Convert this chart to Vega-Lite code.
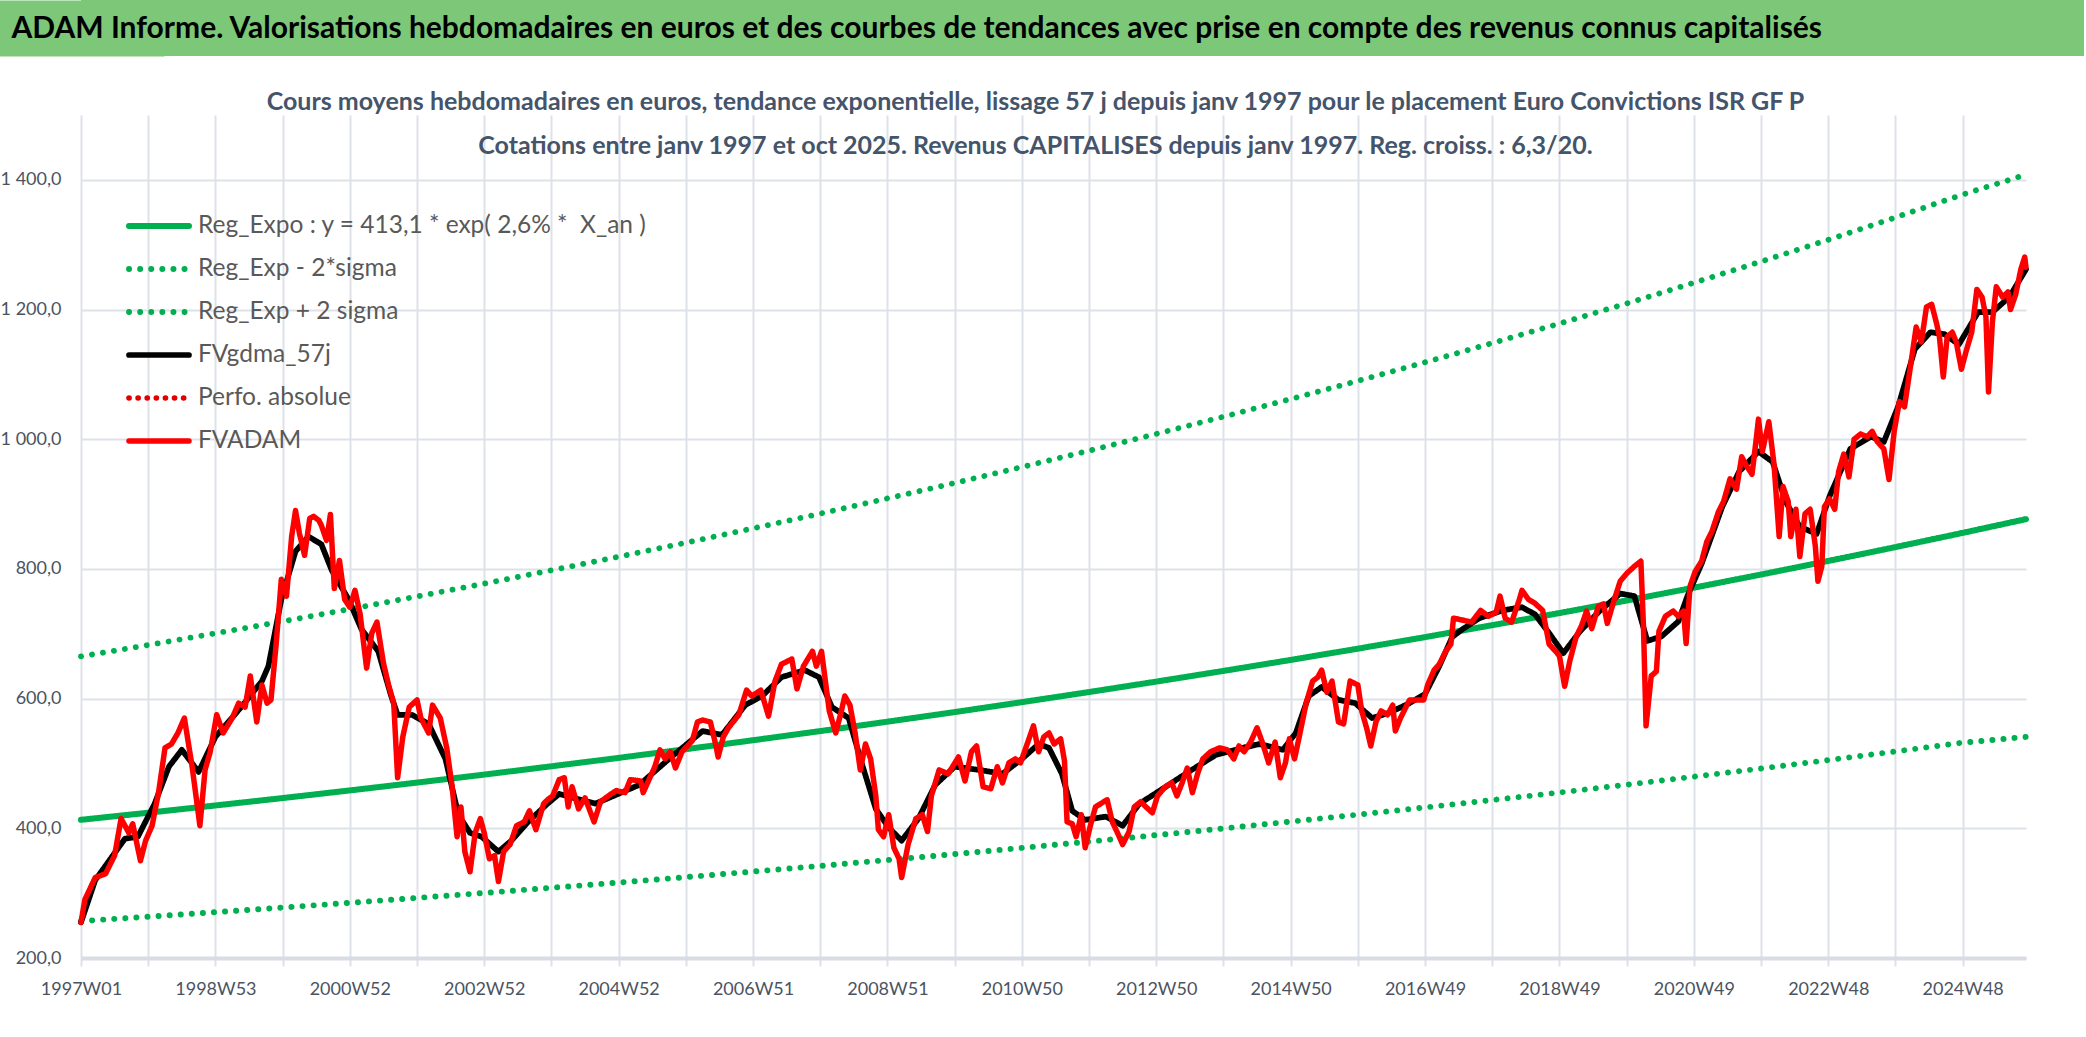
{
  "$schema": "https://vega.github.io/schema/vega-lite/v6.json",
  "padding": 0,
  "background": "white",
  "spacing": 34,
  "config": {
    "locale": {"number": {"decimal": ",", "thousands": "\u00a0", "grouping": [3], "currency": ["", " €"]}},
    "font": "Lato",
    "view": {"stroke": null}
  },
  "vconcat": [
    {
      "width": 2003,
      "height": 56,
      "view": {"fill": "#7cc878", "stroke": null},
      "data": {"values": [{"t": "ADAM Informe. Valorisations hebdomadaires en euros et des courbes de tendances avec prise en compte des revenus connus capitalisés"}]},
      "mark": {"type": "text", "align": "left", "baseline": "middle", "dx": -1071, "dy": 1, "fontSize": 30, "fontWeight": "bold", "color": "#000000"},
      "encoding": {
        "text": {"field": "t"},
        "y": {
          "datum": 0.5,
          "type": "quantitative",
          "scale": {"domain": [0, 1]},
          "axis": {"domain": true, "domainColor": "#7cc878", "domainWidth": 166, "domainCap": "butt", "ticks": false, "labels": false, "grid": false, "title": null}
        }
      }
    },
    {
      "width": 1945,
      "height": 843,
      "title": {
        "text": [
          "Cours moyens hebdomadaires en euros, tendance exponentielle, lissage 57 j depuis janv 1997 pour le placement Euro Convictions ISR GF P",
          "Cotations entre janv 1997 et oct 2025. Revenus CAPITALISES depuis janv 1997. Reg. croiss. : 6,3/20."
        ],
        "fontSize": 25,
        "fontWeight": "bold",
        "color": "#44546a",
        "lineHeight": 44,
        "anchor": "middle",
        "dx": -18,
        "offset": -44
      },
      "data": {
        "values": [
          {"s": "reg", "i": 0, "v": 413.1}, {"s": "reg", "i": 52, "v": 424.0}, {"s": "reg", "i": 104, "v": 435.2}, {"s": "reg", "i": 156, "v": 446.6},
          {"s": "reg", "i": 208, "v": 458.4}, {"s": "reg", "i": 260, "v": 470.5}, {"s": "reg", "i": 312, "v": 482.8}, {"s": "reg", "i": 364, "v": 495.6},
          {"s": "reg", "i": 416, "v": 508.6}, {"s": "reg", "i": 468, "v": 522.0}, {"s": "reg", "i": 520, "v": 535.8}, {"s": "reg", "i": 572, "v": 549.9},
          {"s": "reg", "i": 624, "v": 564.4}, {"s": "reg", "i": 676, "v": 579.2}, {"s": "reg", "i": 728, "v": 594.5}, {"s": "reg", "i": 780, "v": 610.1},
          {"s": "reg", "i": 832, "v": 626.2}, {"s": "reg", "i": 884, "v": 642.7}, {"s": "reg", "i": 936, "v": 659.6}, {"s": "reg", "i": 988, "v": 677.0},
          {"s": "reg", "i": 1040, "v": 694.8}, {"s": "reg", "i": 1092, "v": 713.2}, {"s": "reg", "i": 1144, "v": 731.9}, {"s": "reg", "i": 1196, "v": 751.2},
          {"s": "reg", "i": 1248, "v": 771.0}, {"s": "reg", "i": 1300, "v": 791.3}, {"s": "reg", "i": 1352, "v": 812.2}, {"s": "reg", "i": 1404, "v": 833.6},
          {"s": "reg", "i": 1456, "v": 855.5}, {"s": "reg", "i": 1505, "v": 876.7},
          {"s": "up", "i": 0, "v": 665.1}, {"s": "up", "i": 52, "v": 682.6}, {"s": "up", "i": 104, "v": 700.7}, {"s": "up", "i": 156, "v": 719.0},
          {"s": "up", "i": 208, "v": 738.0}, {"s": "up", "i": 260, "v": 757.5}, {"s": "up", "i": 312, "v": 777.3}, {"s": "up", "i": 364, "v": 797.9},
          {"s": "up", "i": 416, "v": 818.8}, {"s": "up", "i": 468, "v": 840.4}, {"s": "up", "i": 520, "v": 862.6}, {"s": "up", "i": 572, "v": 885.3},
          {"s": "up", "i": 624, "v": 908.7}, {"s": "up", "i": 676, "v": 932.5}, {"s": "up", "i": 728, "v": 957.1}, {"s": "up", "i": 780, "v": 982.3},
          {"s": "up", "i": 832, "v": 1008.2}, {"s": "up", "i": 884, "v": 1034.7}, {"s": "up", "i": 936, "v": 1062.0}, {"s": "up", "i": 988, "v": 1090.0},
          {"s": "up", "i": 1040, "v": 1118.6}, {"s": "up", "i": 1092, "v": 1148.3}, {"s": "up", "i": 1144, "v": 1178.4}, {"s": "up", "i": 1196, "v": 1209.4},
          {"s": "up", "i": 1248, "v": 1241.3}, {"s": "up", "i": 1300, "v": 1274.0}, {"s": "up", "i": 1352, "v": 1307.6}, {"s": "up", "i": 1404, "v": 1342.1},
          {"s": "up", "i": 1456, "v": 1377.4}, {"s": "up", "i": 1505, "v": 1408.0},
          {"s": "low", "i": 0, "v": 256.9}, {"s": "low", "i": 52, "v": 263.7}, {"s": "low", "i": 104, "v": 270.7}, {"s": "low", "i": 156, "v": 277.8},
          {"s": "low", "i": 208, "v": 285.1}, {"s": "low", "i": 260, "v": 292.7}, {"s": "low", "i": 312, "v": 300.3}, {"s": "low", "i": 364, "v": 308.3},
          {"s": "low", "i": 416, "v": 316.3}, {"s": "low", "i": 468, "v": 324.7}, {"s": "low", "i": 520, "v": 333.3}, {"s": "low", "i": 572, "v": 342.0},
          {"s": "low", "i": 624, "v": 351.1}, {"s": "low", "i": 676, "v": 360.3}, {"s": "low", "i": 728, "v": 369.8}, {"s": "low", "i": 780, "v": 379.5},
          {"s": "low", "i": 832, "v": 389.5}, {"s": "low", "i": 884, "v": 399.8}, {"s": "low", "i": 936, "v": 410.3}, {"s": "low", "i": 988, "v": 421.1},
          {"s": "low", "i": 1040, "v": 432.2}, {"s": "low", "i": 1092, "v": 443.6}, {"s": "low", "i": 1144, "v": 455.2}, {"s": "low", "i": 1196, "v": 467.2},
          {"s": "low", "i": 1248, "v": 479.6}, {"s": "low", "i": 1300, "v": 492.2}, {"s": "low", "i": 1352, "v": 505.2}, {"s": "low", "i": 1404, "v": 518.5},
          {"s": "low", "i": 1456, "v": 532.1}, {"s": "low", "i": 1505, "v": 541.0},
          {"s": "gdma", "i": 0, "v": 255}, {"s": "gdma", "i": 11, "v": 320}, {"s": "gdma", "i": 34, "v": 384}, {"s": "gdma", "i": 44, "v": 387},
          {"s": "gdma", "i": 57, "v": 438}, {"s": "gdma", "i": 68, "v": 495}, {"s": "gdma", "i": 78, "v": 521}, {"s": "gdma", "i": 91, "v": 487},
          {"s": "gdma", "i": 104, "v": 541}, {"s": "gdma", "i": 124, "v": 587}, {"s": "gdma", "i": 140, "v": 627}, {"s": "gdma", "i": 145, "v": 650},
          {"s": "gdma", "i": 155, "v": 753}, {"s": "gdma", "i": 166, "v": 827}, {"s": "gdma", "i": 176, "v": 850}, {"s": "gdma", "i": 186, "v": 838},
          {"s": "gdma", "i": 194, "v": 798}, {"s": "gdma", "i": 207, "v": 753}, {"s": "gdma", "i": 217, "v": 707}, {"s": "gdma", "i": 230, "v": 673},
          {"s": "gdma", "i": 240, "v": 604}, {"s": "gdma", "i": 245, "v": 575}, {"s": "gdma", "i": 256, "v": 575}, {"s": "gdma", "i": 269, "v": 561},
          {"s": "gdma", "i": 282, "v": 507}, {"s": "gdma", "i": 292, "v": 421}, {"s": "gdma", "i": 301, "v": 393}, {"s": "gdma", "i": 310, "v": 387},
          {"s": "gdma", "i": 323, "v": 364}, {"s": "gdma", "i": 333, "v": 381}, {"s": "gdma", "i": 346, "v": 410}, {"s": "gdma", "i": 361, "v": 438},
          {"s": "gdma", "i": 370, "v": 453}, {"s": "gdma", "i": 398, "v": 438}, {"s": "gdma", "i": 432, "v": 467}, {"s": "gdma", "i": 455, "v": 507},
          {"s": "gdma", "i": 481, "v": 550}, {"s": "gdma", "i": 496, "v": 544}, {"s": "gdma", "i": 514, "v": 590}, {"s": "gdma", "i": 527, "v": 604},
          {"s": "gdma", "i": 542, "v": 633}, {"s": "gdma", "i": 560, "v": 644}, {"s": "gdma", "i": 571, "v": 633}, {"s": "gdma", "i": 581, "v": 587},
          {"s": "gdma", "i": 594, "v": 570}, {"s": "gdma", "i": 604, "v": 501}, {"s": "gdma", "i": 615, "v": 430}, {"s": "gdma", "i": 625, "v": 401},
          {"s": "gdma", "i": 635, "v": 381}, {"s": "gdma", "i": 648, "v": 415}, {"s": "gdma", "i": 661, "v": 467}, {"s": "gdma", "i": 676, "v": 495},
          {"s": "gdma", "i": 695, "v": 490}, {"s": "gdma", "i": 713, "v": 484}, {"s": "gdma", "i": 728, "v": 507}, {"s": "gdma", "i": 741, "v": 530},
          {"s": "gdma", "i": 749, "v": 524}, {"s": "gdma", "i": 759, "v": 484}, {"s": "gdma", "i": 767, "v": 427}, {"s": "gdma", "i": 777, "v": 413},
          {"s": "gdma", "i": 793, "v": 418}, {"s": "gdma", "i": 806, "v": 404}, {"s": "gdma", "i": 819, "v": 438}, {"s": "gdma", "i": 837, "v": 461},
          {"s": "gdma", "i": 857, "v": 487}, {"s": "gdma", "i": 878, "v": 513}, {"s": "gdma", "i": 899, "v": 524}, {"s": "gdma", "i": 912, "v": 530},
          {"s": "gdma", "i": 930, "v": 521}, {"s": "gdma", "i": 940, "v": 547}, {"s": "gdma", "i": 950, "v": 604}, {"s": "gdma", "i": 960, "v": 618},
          {"s": "gdma", "i": 973, "v": 598}, {"s": "gdma", "i": 986, "v": 593}, {"s": "gdma", "i": 999, "v": 570}, {"s": "gdma", "i": 1012, "v": 578},
          {"s": "gdma", "i": 1028, "v": 593}, {"s": "gdma", "i": 1040, "v": 607}, {"s": "gdma", "i": 1051, "v": 650}, {"s": "gdma", "i": 1061, "v": 695},
          {"s": "gdma", "i": 1069, "v": 707}, {"s": "gdma", "i": 1082, "v": 724}, {"s": "gdma", "i": 1100, "v": 736}, {"s": "gdma", "i": 1115, "v": 741},
          {"s": "gdma", "i": 1125, "v": 730}, {"s": "gdma", "i": 1136, "v": 701}, {"s": "gdma", "i": 1147, "v": 670}, {"s": "gdma", "i": 1160, "v": 704},
          {"s": "gdma", "i": 1175, "v": 735}, {"s": "gdma", "i": 1191, "v": 762}, {"s": "gdma", "i": 1202, "v": 758}, {"s": "gdma", "i": 1212, "v": 689},
          {"s": "gdma", "i": 1223, "v": 696}, {"s": "gdma", "i": 1236, "v": 719}, {"s": "gdma", "i": 1243, "v": 758}, {"s": "gdma", "i": 1254, "v": 808},
          {"s": "gdma", "i": 1270, "v": 896}, {"s": "gdma", "i": 1283, "v": 950}, {"s": "gdma", "i": 1298, "v": 981}, {"s": "gdma", "i": 1309, "v": 965},
          {"s": "gdma", "i": 1319, "v": 904}, {"s": "gdma", "i": 1330, "v": 865}, {"s": "gdma", "i": 1343, "v": 854}, {"s": "gdma", "i": 1353, "v": 912},
          {"s": "gdma", "i": 1369, "v": 985}, {"s": "gdma", "i": 1385, "v": 1004}, {"s": "gdma", "i": 1395, "v": 996}, {"s": "gdma", "i": 1406, "v": 1050},
          {"s": "gdma", "i": 1419, "v": 1139}, {"s": "gdma", "i": 1431, "v": 1165}, {"s": "gdma", "i": 1442, "v": 1162}, {"s": "gdma", "i": 1453, "v": 1146},
          {"s": "gdma", "i": 1468, "v": 1196}, {"s": "gdma", "i": 1479, "v": 1196}, {"s": "gdma", "i": 1492, "v": 1219}, {"s": "gdma", "i": 1505, "v": 1262},
          {"s": "fv", "i": 0, "v": 255}, {"s": "fv", "i": 3, "v": 290}, {"s": "fv", "i": 11, "v": 324}, {"s": "fv", "i": 19, "v": 330},
          {"s": "fv", "i": 26, "v": 358}, {"s": "fv", "i": 31, "v": 415}, {"s": "fv", "i": 37, "v": 393}, {"s": "fv", "i": 40, "v": 407},
          {"s": "fv", "i": 46, "v": 350}, {"s": "fv", "i": 50, "v": 381}, {"s": "fv", "i": 55, "v": 404}, {"s": "fv", "i": 60, "v": 455},
          {"s": "fv", "i": 65, "v": 524}, {"s": "fv", "i": 70, "v": 530}, {"s": "fv", "i": 75, "v": 547}, {"s": "fv", "i": 80, "v": 570},
          {"s": "fv", "i": 86, "v": 495}, {"s": "fv", "i": 92, "v": 404}, {"s": "fv", "i": 96, "v": 490}, {"s": "fv", "i": 100, "v": 518},
          {"s": "fv", "i": 105, "v": 575}, {"s": "fv", "i": 110, "v": 547}, {"s": "fv", "i": 117, "v": 570}, {"s": "fv", "i": 122, "v": 593},
          {"s": "fv", "i": 127, "v": 587}, {"s": "fv", "i": 131, "v": 635}, {"s": "fv", "i": 136, "v": 564}, {"s": "fv", "i": 140, "v": 621},
          {"s": "fv", "i": 144, "v": 593}, {"s": "fv", "i": 147, "v": 598}, {"s": "fv", "i": 151, "v": 684}, {"s": "fv", "i": 155, "v": 784},
          {"s": "fv", "i": 159, "v": 758}, {"s": "fv", "i": 163, "v": 850}, {"s": "fv", "i": 166, "v": 890}, {"s": "fv", "i": 169, "v": 855},
          {"s": "fv", "i": 173, "v": 821}, {"s": "fv", "i": 177, "v": 878}, {"s": "fv", "i": 180, "v": 881}, {"s": "fv", "i": 184, "v": 875},
          {"s": "fv", "i": 186, "v": 867}, {"s": "fv", "i": 190, "v": 844}, {"s": "fv", "i": 193, "v": 884}, {"s": "fv", "i": 196, "v": 770},
          {"s": "fv", "i": 200, "v": 813}, {"s": "fv", "i": 204, "v": 753}, {"s": "fv", "i": 208, "v": 741}, {"s": "fv", "i": 212, "v": 767},
          {"s": "fv", "i": 216, "v": 730}, {"s": "fv", "i": 221, "v": 647}, {"s": "fv", "i": 225, "v": 701}, {"s": "fv", "i": 229, "v": 718},
          {"s": "fv", "i": 234, "v": 655}, {"s": "fv", "i": 238, "v": 621}, {"s": "fv", "i": 242, "v": 593}, {"s": "fv", "i": 245, "v": 478},
          {"s": "fv", "i": 249, "v": 541}, {"s": "fv", "i": 254, "v": 587}, {"s": "fv", "i": 260, "v": 598}, {"s": "fv", "i": 263, "v": 570},
          {"s": "fv", "i": 269, "v": 547}, {"s": "fv", "i": 272, "v": 590}, {"s": "fv", "i": 278, "v": 570}, {"s": "fv", "i": 283, "v": 524},
          {"s": "fv", "i": 287, "v": 467}, {"s": "fv", "i": 291, "v": 387}, {"s": "fv", "i": 294, "v": 433}, {"s": "fv", "i": 297, "v": 364},
          {"s": "fv", "i": 301, "v": 333}, {"s": "fv", "i": 305, "v": 393}, {"s": "fv", "i": 309, "v": 415}, {"s": "fv", "i": 312, "v": 393},
          {"s": "fv", "i": 316, "v": 353}, {"s": "fv", "i": 320, "v": 358}, {"s": "fv", "i": 323, "v": 318}, {"s": "fv", "i": 327, "v": 364},
          {"s": "fv", "i": 332, "v": 375}, {"s": "fv", "i": 337, "v": 404}, {"s": "fv", "i": 343, "v": 410}, {"s": "fv", "i": 347, "v": 427},
          {"s": "fv", "i": 352, "v": 398}, {"s": "fv", "i": 358, "v": 438}, {"s": "fv", "i": 361, "v": 444}, {"s": "fv", "i": 365, "v": 450},
          {"s": "fv", "i": 370, "v": 475}, {"s": "fv", "i": 374, "v": 478}, {"s": "fv", "i": 377, "v": 433}, {"s": "fv", "i": 380, "v": 464},
          {"s": "fv", "i": 385, "v": 430}, {"s": "fv", "i": 390, "v": 447}, {"s": "fv", "i": 397, "v": 410}, {"s": "fv", "i": 402, "v": 441},
          {"s": "fv", "i": 408, "v": 450}, {"s": "fv", "i": 414, "v": 458}, {"s": "fv", "i": 421, "v": 455}, {"s": "fv", "i": 425, "v": 475},
          {"s": "fv", "i": 433, "v": 473}, {"s": "fv", "i": 435, "v": 455}, {"s": "fv", "i": 444, "v": 495}, {"s": "fv", "i": 448, "v": 521},
          {"s": "fv", "i": 452, "v": 507}, {"s": "fv", "i": 456, "v": 518}, {"s": "fv", "i": 460, "v": 493}, {"s": "fv", "i": 465, "v": 518},
          {"s": "fv", "i": 473, "v": 535}, {"s": "fv", "i": 477, "v": 564}, {"s": "fv", "i": 481, "v": 567}, {"s": "fv", "i": 487, "v": 564},
          {"s": "fv", "i": 491, "v": 530}, {"s": "fv", "i": 493, "v": 510}, {"s": "fv", "i": 497, "v": 541}, {"s": "fv", "i": 501, "v": 555},
          {"s": "fv", "i": 509, "v": 575}, {"s": "fv", "i": 515, "v": 613}, {"s": "fv", "i": 519, "v": 604}, {"s": "fv", "i": 526, "v": 613},
          {"s": "fv", "i": 532, "v": 573}, {"s": "fv", "i": 537, "v": 627}, {"s": "fv", "i": 542, "v": 653}, {"s": "fv", "i": 550, "v": 661},
          {"s": "fv", "i": 554, "v": 615}, {"s": "fv", "i": 559, "v": 650}, {"s": "fv", "i": 566, "v": 673}, {"s": "fv", "i": 569, "v": 650},
          {"s": "fv", "i": 573, "v": 673}, {"s": "fv", "i": 579, "v": 581}, {"s": "fv", "i": 584, "v": 547}, {"s": "fv", "i": 588, "v": 578},
          {"s": "fv", "i": 591, "v": 604}, {"s": "fv", "i": 595, "v": 590}, {"s": "fv", "i": 599, "v": 547}, {"s": "fv", "i": 603, "v": 490},
          {"s": "fv", "i": 607, "v": 530}, {"s": "fv", "i": 611, "v": 507}, {"s": "fv", "i": 615, "v": 450}, {"s": "fv", "i": 617, "v": 398},
          {"s": "fv", "i": 621, "v": 387}, {"s": "fv", "i": 625, "v": 421}, {"s": "fv", "i": 629, "v": 370}, {"s": "fv", "i": 633, "v": 353},
          {"s": "fv", "i": 635, "v": 324}, {"s": "fv", "i": 640, "v": 375}, {"s": "fv", "i": 646, "v": 415}, {"s": "fv", "i": 651, "v": 421},
          {"s": "fv", "i": 655, "v": 395}, {"s": "fv", "i": 658, "v": 450}, {"s": "fv", "i": 664, "v": 490}, {"s": "fv", "i": 671, "v": 484},
          {"s": "fv", "i": 679, "v": 510}, {"s": "fv", "i": 684, "v": 473}, {"s": "fv", "i": 689, "v": 518}, {"s": "fv", "i": 693, "v": 527},
          {"s": "fv", "i": 698, "v": 464}, {"s": "fv", "i": 704, "v": 461}, {"s": "fv", "i": 709, "v": 495}, {"s": "fv", "i": 713, "v": 470},
          {"s": "fv", "i": 718, "v": 501}, {"s": "fv", "i": 723, "v": 507}, {"s": "fv", "i": 727, "v": 501}, {"s": "fv", "i": 733, "v": 535},
          {"s": "fv", "i": 737, "v": 558}, {"s": "fv", "i": 741, "v": 518}, {"s": "fv", "i": 745, "v": 541}, {"s": "fv", "i": 749, "v": 547},
          {"s": "fv", "i": 753, "v": 530}, {"s": "fv", "i": 758, "v": 538}, {"s": "fv", "i": 761, "v": 504}, {"s": "fv", "i": 763, "v": 410},
          {"s": "fv", "i": 767, "v": 407}, {"s": "fv", "i": 770, "v": 387}, {"s": "fv", "i": 774, "v": 421}, {"s": "fv", "i": 777, "v": 370},
          {"s": "fv", "i": 781, "v": 404}, {"s": "fv", "i": 785, "v": 433}, {"s": "fv", "i": 789, "v": 438}, {"s": "fv", "i": 794, "v": 444},
          {"s": "fv", "i": 798, "v": 410}, {"s": "fv", "i": 802, "v": 393}, {"s": "fv", "i": 806, "v": 375}, {"s": "fv", "i": 811, "v": 395},
          {"s": "fv", "i": 815, "v": 433}, {"s": "fv", "i": 820, "v": 441}, {"s": "fv", "i": 824, "v": 433}, {"s": "fv", "i": 829, "v": 424},
          {"s": "fv", "i": 833, "v": 450}, {"s": "fv", "i": 839, "v": 464}, {"s": "fv", "i": 844, "v": 470}, {"s": "fv", "i": 848, "v": 450},
          {"s": "fv", "i": 852, "v": 470}, {"s": "fv", "i": 856, "v": 493}, {"s": "fv", "i": 860, "v": 455}, {"s": "fv", "i": 864, "v": 484},
          {"s": "fv", "i": 868, "v": 507}, {"s": "fv", "i": 874, "v": 518}, {"s": "fv", "i": 881, "v": 524}, {"s": "fv", "i": 887, "v": 521},
          {"s": "fv", "i": 892, "v": 507}, {"s": "fv", "i": 896, "v": 527}, {"s": "fv", "i": 900, "v": 518}, {"s": "fv", "i": 905, "v": 533},
          {"s": "fv", "i": 910, "v": 555}, {"s": "fv", "i": 914, "v": 533}, {"s": "fv", "i": 919, "v": 501}, {"s": "fv", "i": 924, "v": 533},
          {"s": "fv", "i": 928, "v": 478}, {"s": "fv", "i": 932, "v": 501}, {"s": "fv", "i": 935, "v": 538}, {"s": "fv", "i": 939, "v": 507},
          {"s": "fv", "i": 942, "v": 535}, {"s": "fv", "i": 948, "v": 593}, {"s": "fv", "i": 953, "v": 627}, {"s": "fv", "i": 957, "v": 633},
          {"s": "fv", "i": 960, "v": 644}, {"s": "fv", "i": 964, "v": 610}, {"s": "fv", "i": 968, "v": 627}, {"s": "fv", "i": 973, "v": 564},
          {"s": "fv", "i": 977, "v": 561}, {"s": "fv", "i": 982, "v": 627}, {"s": "fv", "i": 988, "v": 621}, {"s": "fv", "i": 991, "v": 581},
          {"s": "fv", "i": 995, "v": 553}, {"s": "fv", "i": 998, "v": 527}, {"s": "fv", "i": 1002, "v": 564}, {"s": "fv", "i": 1006, "v": 581},
          {"s": "fv", "i": 1011, "v": 575}, {"s": "fv", "i": 1015, "v": 590}, {"s": "fv", "i": 1017, "v": 550}, {"s": "fv", "i": 1021, "v": 570},
          {"s": "fv", "i": 1028, "v": 598}, {"s": "fv", "i": 1034, "v": 598}, {"s": "fv", "i": 1039, "v": 598}, {"s": "fv", "i": 1042, "v": 621},
          {"s": "fv", "i": 1047, "v": 644}, {"s": "fv", "i": 1051, "v": 653}, {"s": "fv", "i": 1056, "v": 673}, {"s": "fv", "i": 1060, "v": 684},
          {"s": "fv", "i": 1062, "v": 724}, {"s": "fv", "i": 1069, "v": 721}, {"s": "fv", "i": 1076, "v": 718}, {"s": "fv", "i": 1083, "v": 736},
          {"s": "fv", "i": 1089, "v": 727}, {"s": "fv", "i": 1095, "v": 733}, {"s": "fv", "i": 1098, "v": 758}, {"s": "fv", "i": 1102, "v": 724},
          {"s": "fv", "i": 1107, "v": 718}, {"s": "fv", "i": 1113, "v": 753}, {"s": "fv", "i": 1115, "v": 767}, {"s": "fv", "i": 1120, "v": 753},
          {"s": "fv", "i": 1125, "v": 747}, {"s": "fv", "i": 1131, "v": 736}, {"s": "fv", "i": 1136, "v": 684}, {"s": "fv", "i": 1141, "v": 673},
          {"s": "fv", "i": 1144, "v": 666}, {"s": "fv", "i": 1148, "v": 619}, {"s": "fv", "i": 1152, "v": 658}, {"s": "fv", "i": 1157, "v": 696},
          {"s": "fv", "i": 1161, "v": 712}, {"s": "fv", "i": 1165, "v": 735}, {"s": "fv", "i": 1169, "v": 708}, {"s": "fv", "i": 1174, "v": 742},
          {"s": "fv", "i": 1178, "v": 746}, {"s": "fv", "i": 1181, "v": 716}, {"s": "fv", "i": 1186, "v": 750}, {"s": "fv", "i": 1191, "v": 781},
          {"s": "fv", "i": 1196, "v": 793}, {"s": "fv", "i": 1202, "v": 804}, {"s": "fv", "i": 1207, "v": 812}, {"s": "fv", "i": 1209, "v": 712},
          {"s": "fv", "i": 1211, "v": 558}, {"s": "fv", "i": 1215, "v": 635}, {"s": "fv", "i": 1219, "v": 642}, {"s": "fv", "i": 1221, "v": 704},
          {"s": "fv", "i": 1226, "v": 727}, {"s": "fv", "i": 1232, "v": 735}, {"s": "fv", "i": 1236, "v": 727}, {"s": "fv", "i": 1240, "v": 735},
          {"s": "fv", "i": 1242, "v": 685}, {"s": "fv", "i": 1245, "v": 773}, {"s": "fv", "i": 1249, "v": 796}, {"s": "fv", "i": 1254, "v": 812},
          {"s": "fv", "i": 1258, "v": 842}, {"s": "fv", "i": 1262, "v": 858}, {"s": "fv", "i": 1267, "v": 888}, {"s": "fv", "i": 1271, "v": 904},
          {"s": "fv", "i": 1276, "v": 939}, {"s": "fv", "i": 1281, "v": 923}, {"s": "fv", "i": 1285, "v": 973}, {"s": "fv", "i": 1289, "v": 958},
          {"s": "fv", "i": 1293, "v": 946}, {"s": "fv", "i": 1296, "v": 996}, {"s": "fv", "i": 1298, "v": 1031}, {"s": "fv", "i": 1301, "v": 981},
          {"s": "fv", "i": 1306, "v": 1027}, {"s": "fv", "i": 1310, "v": 962}, {"s": "fv", "i": 1314, "v": 850}, {"s": "fv", "i": 1317, "v": 927},
          {"s": "fv", "i": 1321, "v": 904}, {"s": "fv", "i": 1323, "v": 850}, {"s": "fv", "i": 1327, "v": 892}, {"s": "fv", "i": 1330, "v": 819},
          {"s": "fv", "i": 1334, "v": 885}, {"s": "fv", "i": 1338, "v": 892}, {"s": "fv", "i": 1342, "v": 835}, {"s": "fv", "i": 1344, "v": 781},
          {"s": "fv", "i": 1347, "v": 804}, {"s": "fv", "i": 1349, "v": 896}, {"s": "fv", "i": 1353, "v": 908}, {"s": "fv", "i": 1357, "v": 892},
          {"s": "fv", "i": 1360, "v": 950}, {"s": "fv", "i": 1364, "v": 977}, {"s": "fv", "i": 1368, "v": 942}, {"s": "fv", "i": 1372, "v": 1000},
          {"s": "fv", "i": 1377, "v": 1008}, {"s": "fv", "i": 1382, "v": 1004}, {"s": "fv", "i": 1386, "v": 1012}, {"s": "fv", "i": 1390, "v": 996},
          {"s": "fv", "i": 1395, "v": 985}, {"s": "fv", "i": 1399, "v": 938}, {"s": "fv", "i": 1403, "v": 1012}, {"s": "fv", "i": 1407, "v": 1058},
          {"s": "fv", "i": 1411, "v": 1050}, {"s": "fv", "i": 1415, "v": 1104}, {"s": "fv", "i": 1420, "v": 1173}, {"s": "fv", "i": 1424, "v": 1150},
          {"s": "fv", "i": 1428, "v": 1204}, {"s": "fv", "i": 1432, "v": 1208}, {"s": "fv", "i": 1436, "v": 1177}, {"s": "fv", "i": 1438, "v": 1158},
          {"s": "fv", "i": 1441, "v": 1096}, {"s": "fv", "i": 1444, "v": 1158}, {"s": "fv", "i": 1448, "v": 1165}, {"s": "fv", "i": 1451, "v": 1150},
          {"s": "fv", "i": 1455, "v": 1108}, {"s": "fv", "i": 1459, "v": 1138}, {"s": "fv", "i": 1463, "v": 1165}, {"s": "fv", "i": 1467, "v": 1231},
          {"s": "fv", "i": 1471, "v": 1219}, {"s": "fv", "i": 1474, "v": 1189}, {"s": "fv", "i": 1476, "v": 1073}, {"s": "fv", "i": 1479, "v": 1181},
          {"s": "fv", "i": 1482, "v": 1235}, {"s": "fv", "i": 1487, "v": 1219}, {"s": "fv", "i": 1491, "v": 1227}, {"s": "fv", "i": 1493, "v": 1200},
          {"s": "fv", "i": 1497, "v": 1223}, {"s": "fv", "i": 1501, "v": 1262}, {"s": "fv", "i": 1504, "v": 1281}, {"s": "fv", "i": 1505, "v": 1265}
        ]
      },
      "encoding": {
        "x": {
          "field": "i",
          "type": "quantitative",
          "scale": {"domain": [0, 1505], "nice": false, "zero": false},
          "axis": {
            "title": null,
            "values": [0, 52, 104, 156, 208, 260, 312, 364, 416, 468, 520, 572, 624, 676, 728, 780, 832, 884, 936, 988, 1040, 1092, 1144, 1196, 1248, 1300, 1352, 1404, 1456],
            "labelExpr": "datum.value % 104 == 0 ? ['1997W01','1998W53','2000W52','2002W52','2004W52','2006W51','2008W51','2010W50','2012W50','2014W50','2016W49','2018W49','2020W49','2022W48','2024W48'][datum.value / 104] : ''",
            "labelFlush": false,
            "labelOverlap": false,
            "labelFontSize": 18,
            "labelColor": "#4a5361",
            "labelPadding": 14,
            "grid": true,
            "gridColor": "#dde1e8",
            "gridWidth": 2,
            "domainColor": "#d9dce3",
            "domainWidth": 4,
            "tickColor": "#dde1e8",
            "tickWidth": 2,
            "tickSize": 8
          }
        },
        "y": {
          "field": "v",
          "type": "quantitative",
          "scale": {"domain": [200, 1500], "nice": false, "zero": false},
          "axis": {
            "title": null,
            "values": [200, 400, 600, 800, 1000, 1200, 1400],
            "format": ",.1f",
            "domain": false,
            "ticks": false,
            "grid": true,
            "gridColor": "#dde1e8",
            "gridWidth": 2,
            "labelFontSize": 18,
            "labelColor": "#4a5361",
            "labelPadding": 20
          }
        }
      },
      "layer": [
        {
          "data": {"values": [{}]},
          "mark": {"type": "rect", "fill": "white", "stroke": null},
          "encoding": {
            "x": {"datum": 137, "type": "quantitative"},
            "x2": {"datum": 1343},
            "y": {"datum": 1421, "type": "quantitative"},
            "y2": {"datum": 1500}
          }
        },
        {
          "transform": [{"filter": "datum.s == 'reg' || datum.s == 'low' || datum.s == 'up'"}],
          "mark": {"type": "line", "strokeCap": "round", "strokeJoin": "round"},
          "encoding": {
            "color": {
              "field": "s",
              "type": "nominal",
              "scale": {"domain": ["reg", "low", "up", "gdma", "perfo", "fv"], "range": ["#00b050", "#00b050", "#00b050", "#000000", "#e00000", "#ff0000"]},
              "legend": {
                "title": null,
                "orient": "none",
                "legendX": 93,
                "legendY": 211,
                "padding": 0,
                "symbolType": "M-5,0H0",
                "symbolSize": 576,
                "labelFontSize": 24.5,
                "labelColor": "#595959",
                "labelLimit": 1000,
                "labelOffset": -6,
                "rowPadding": 16,
                "labelExpr": "datum.label == 'reg' ? 'Reg_Expo : y = 413,1 * exp( 2,6% *\u00a0 X_an )' : datum.label == 'low' ? 'Reg_Exp - 2*sigma' : datum.label == 'up' ? 'Reg_Exp + 2 sigma' : datum.label == 'gdma' ? 'FVgdma_57j' : datum.label == 'perfo' ? 'Perfo. absolue' : 'FVADAM'",
                "encode": {"symbols": {"update": {"strokeCap": {"value": "round"}}}}
              }
            },
            "strokeDash": {
              "field": "s",
              "type": "nominal",
              "scale": {"domain": ["reg", "low", "up", "gdma", "perfo", "fv"], "range": [[1, 0], [0.1, 11], [0.1, 11], [1, 0], [0.1, 9], [1, 0]]}
            },
            "strokeWidth": {
              "field": "s",
              "type": "nominal",
              "scale": {"domain": ["reg", "low", "up", "gdma", "perfo", "fv"], "range": [6, 5.5, 5.5, 4.5, 4.5, 6]}
            }
          }
        },
        {
          "transform": [{"filter": "datum.s == 'gdma'"}],
          "mark": {"type": "line", "strokeCap": "round", "strokeJoin": "round"},
          "encoding": {
            "color": {"field": "s", "type": "nominal"},
            "strokeDash": {"field": "s", "type": "nominal"},
            "strokeWidth": {"field": "s", "type": "nominal"}
          }
        },
        {
          "transform": [{"filter": "datum.s == 'fv'"}],
          "mark": {"type": "line", "strokeCap": "round", "strokeJoin": "round"},
          "encoding": {
            "color": {"field": "s", "type": "nominal"},
            "strokeDash": {"field": "s", "type": "nominal"},
            "strokeWidth": {"field": "s", "type": "nominal"}
          }
        }
      ]
    }
  ]
}
